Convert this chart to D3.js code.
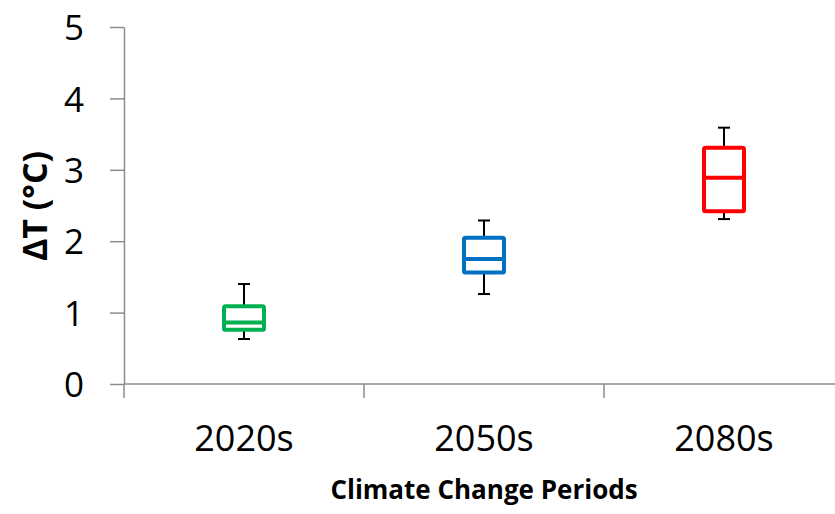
<!DOCTYPE html>
<html>
<head>
<meta charset="utf-8">
<script src="https://cdn.jsdelivr.net/npm/d3@7"></script>
<style>
  html, body { margin: 0; padding: 0; background: #fff; }
  svg { display: block; }
  text { font-family: "Open Sans", sans-serif; fill: #000; }
</style>
</head>
<body>
<svg id="chart" width="835" height="514"></svg>
<script>
// Temperature change summary per climate change period
const periods   = ["2020s", "2050s", "2080s"];
const whiskerLo = [0.63, 1.26, 2.31];
const q1        = [0.76, 1.56, 2.42];
const median    = [0.86, 1.75, 2.89];
const q3        = [1.09, 2.05, 3.31];
const whiskerHi = [1.40, 2.29, 3.59];
const colors    = ["#00B050", "#0070C0", "#FF0000"];
const yTicks    = [0, 1, 2, 3, 4, 5];

const svg = d3.select("#chart");
const margin = { left: 124, top: 27 };
const plotBottom = 384;
const fontStack = '"Open Sans", sans-serif';

const x = d3.scaleBand()
  .domain(periods)
  .range([margin.left, margin.left + 240 * periods.length])
  .paddingInner(0).paddingOuter(0);

const y = d3.scaleLinear().domain([0, 5]).range([plotBottom, margin.top]);

const axisColor = "#8c8c8c";

// y axis
const yAxis = svg.append("g")
  .attr("transform", `translate(${margin.left},0)`)
  .call(d3.axisLeft(y).tickValues(yTicks).tickFormat(d3.format("d"))
    .tickSize(14).tickPadding(26).tickSizeOuter(0));
yAxis.select(".domain").attr("stroke", axisColor).attr("stroke-width", 1.5);
yAxis.selectAll(".tick line").attr("stroke", axisColor).attr("stroke-width", 1.5);
yAxis.selectAll(".tick text")
  .attr("font-size", 35)
  .style("font-family", fontStack)
  .attr("dy", "0.36em");

// x axis with category boundary ticks
const xAxisG = svg.append("g").attr("transform", `translate(0,${plotBottom})`);
xAxisG.append("line")
  .attr("x1", margin.left).attr("x2", 835)
  .attr("stroke", axisColor).attr("stroke-width", 1.5);
xAxisG.selectAll("line.bound")
  .data(periods)
  .join("line")
  .attr("class", "bound")
  .attr("x1", d => x(d)).attr("x2", d => x(d))
  .attr("y1", 0).attr("y2", 14)
  .attr("stroke", axisColor).attr("stroke-width", 1.5);
xAxisG.selectAll("text.cat")
  .data(periods)
  .join("text")
  .attr("class", "cat")
  .attr("x", d => x(d) + x.bandwidth() / 2)
  .attr("y", 67)
  .attr("text-anchor", "middle")
  .attr("font-size", 36)
  .text(d => d);

// boxes
const boxW = 40, capW = 12;
const g = svg.append("g");
periods.forEach((p, i) => {
  const cx = x(p) + x.bandwidth() / 2;
  // whiskers
  g.append("line").attr("x1", cx).attr("x2", cx)
    .attr("y1", y(q3[i])).attr("y2", y(whiskerHi[i]))
    .attr("stroke", "#000").attr("stroke-width", 2);
  g.append("line").attr("x1", cx).attr("x2", cx)
    .attr("y1", y(q1[i])).attr("y2", y(whiskerLo[i]))
    .attr("stroke", "#000").attr("stroke-width", 2);
  g.append("line").attr("x1", cx - capW / 2).attr("x2", cx + capW / 2)
    .attr("y1", y(whiskerHi[i])).attr("y2", y(whiskerHi[i]))
    .attr("stroke", "#000").attr("stroke-width", 2);
  g.append("line").attr("x1", cx - capW / 2).attr("x2", cx + capW / 2)
    .attr("y1", y(whiskerLo[i])).attr("y2", y(whiskerLo[i]))
    .attr("stroke", "#000").attr("stroke-width", 2);
  // box
  g.append("rect")
    .attr("x", cx - boxW / 2).attr("width", boxW)
    .attr("y", y(q3[i])).attr("height", y(q1[i]) - y(q3[i]))
    .attr("fill", "#fff").attr("stroke", colors[i]).attr("stroke-width", 4)
    .attr("rx", 1.5);
  // median
  g.append("line").attr("x1", cx - boxW / 2).attr("x2", cx + boxW / 2)
    .attr("y1", y(median[i])).attr("y2", y(median[i]))
    .attr("stroke", colors[i]).attr("stroke-width", 4);
});

// axis titles
svg.append("text")
  .attr("x", x(periods[1]) + x.bandwidth() / 2)
  .attr("y", 499)
  .attr("text-anchor", "middle")
  .attr("font-size", 26)
  .attr("font-weight", "bold")
  .text("Climate Change Periods");

svg.append("text")
  .attr("transform", "translate(47,206) rotate(-90)")
  .attr("text-anchor", "middle")
  .attr("font-size", 34)
  .attr("font-weight", "bold")
  .text("ΔT (°C)");
</script>
</body>
</html>
